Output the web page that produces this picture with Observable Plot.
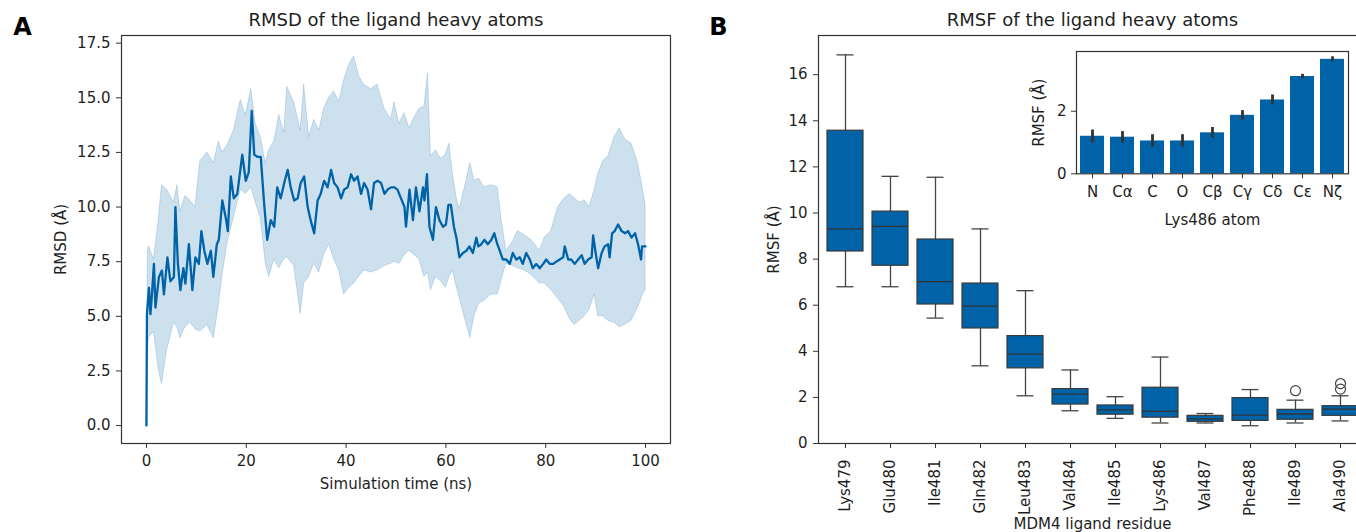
<!DOCTYPE html>
<html><head><meta charset="utf-8">
<script src="https://cdn.jsdelivr.net/npm/d3@7"></script>
<script src="https://cdn.jsdelivr.net/npm/@observablehq/plot@0.6"></script>
<style>
html,body{margin:0;padding:0;background:#fff;overflow:hidden}
#root{position:relative;width:1356px;height:532px;overflow:hidden;font-family:"DejaVu Sans",sans-serif}
#root svg{position:absolute;top:0}
</style></head><body><div id="root"></div>
<script>
// ---------- Panel A: RMSD time series ----------
const rmsdTime = [0,0.1,0.5,0.8,1.1,1.5,1.8,2.5,3.1,3.5,4.2,4.8,5.5,5.8,6.3,6.8,7.4,7.8,8.5,9.2,9.8,10.5,11.0,11.6,12.2,12.9,13.4,14.1,14.5,15.2,15.9,16.3,16.9,17.5,18.2,19.2,19.9,20.5,21.1,21.6,22.2,22.9,23.6,24.2,24.9,25.6,26.2,26.9,27.6,28.3,28.9,29.6,30.3,30.9,31.6,32.3,32.9,33.6,34.3,34.9,35.6,36.3,37.0,37.6,38.3,39.0,39.6,40.3,41.0,41.6,42.3,43.0,43.6,44.3,45.0,45.6,46.3,47.0,47.7,48.3,49.0,49.7,50.3,51.0,51.7,52.0,52.7,53.4,54.0,54.7,55.4,55.7,56.2,56.7,57.4,58.0,58.7,59.4,60.0,60.5,61.0,61.6,62.1,62.7,63.4,64.1,64.7,65.4,66.1,66.5,67.1,67.7,68.4,69.1,69.7,70.3,70.8,71.4,72.1,72.8,73.4,74.1,74.8,75.4,76.1,76.8,77.4,78.1,78.8,79.5,80.1,80.8,81.5,82.1,82.8,83.5,83.8,84.5,85.1,85.8,86.5,87.2,87.8,88.5,89.2,89.5,90.0,90.5,91.2,91.8,92.5,92.8,93.3,93.8,94.5,95.2,95.9,96.5,97.2,97.9,98.5,99.1,99.3,99.8,100];
const rmsdMean = [0,5.1,6.3,5.1,6.0,7.4,5.4,6.8,7.1,6.0,7.7,6.6,6.8,10.0,7.4,6.2,7.2,6.5,8.3,6.2,7.7,7.4,8.9,8.0,7.4,8.0,6.8,8.3,8.5,10.3,9.5,8.9,11.4,10.4,10.6,12.4,11.2,11.6,14.4,12.4,12.3,12.3,10.1,8.5,9.4,9.1,10.9,10.4,11.1,11.7,10.9,10.3,10.4,11.1,11.4,10.0,9.4,8.8,10.3,10.6,11.2,10.9,11.7,11.1,10.9,10.4,10.8,10.9,11.5,11.2,11.4,10.6,11.1,10.8,9.9,11.1,11.2,11.1,10.6,10.8,10.9,10.9,10.8,10.4,10.0,9.1,10.8,9.4,10.9,9.8,10.9,10.3,11.5,9.1,8.5,10.0,9.4,9.1,9.2,10.1,10.1,9.1,8.6,7.7,7.9,8.0,8.2,7.9,8.6,8.2,8.3,8.5,8.3,8.5,8.8,8.3,8.0,7.6,7.6,7.4,7.9,7.6,7.7,7.4,7.9,7.6,7.2,7.4,7.2,7.4,7.6,7.4,7.4,7.5,7.6,7.7,8.2,7.6,7.6,7.4,7.6,7.8,7.4,7.6,7.7,8.7,7.9,7.2,7.9,8.2,8.3,7.7,8.8,8.9,9.2,8.9,8.8,8.9,8.6,8.8,8.3,7.6,8.2,8.2,8.2];
const bandTime = [0,0.3,0.5,1.5,2.5,3.1,4.1,5.5,6.2,6.8,7.8,8.8,9.8,10.8,12.2,13.5,14.5,15.2,16.2,17.5,18.9,19.9,21.0,21.9,22.9,23.9,24.6,25.6,26.6,27.6,28.2,29.6,30.9,31.6,32.6,33.6,34.6,35.6,36.6,37.6,38.6,39.6,40.6,41.6,42.6,43.6,45.0,46.3,47.7,49.0,49.7,50.7,51.7,52.7,53.7,54.7,55.7,56.4,57.0,58.0,59.0,60.0,60.7,61.4,62.1,62.7,63.7,64.9,65.7,66.7,67.7,69.1,70.4,71.1,72.1,73.4,74.4,75.8,77.1,78.8,79.8,81.1,82.5,83.8,84.8,85.8,86.8,87.8,88.8,89.8,90.5,91.5,92.5,93.8,94.8,95.9,97.2,98.5,99.5,100];
const bandHigh = [0,8.0,8.2,7.6,9.5,11.0,10.8,10.2,11.0,9.8,10.5,10.3,10.0,12.1,12.5,12.0,13.0,12.5,12.8,13.5,14.9,14.2,15.4,13.8,13.2,12.0,12.6,13.0,14.2,13.4,15.5,14.8,13.5,15.6,13.2,14.0,13.5,14.5,15.0,15.3,14.8,15.8,16.5,16.9,16.0,15.6,15.4,15.6,14.5,14.0,14.8,13.8,14.3,13.6,14.1,14.5,14.6,16.1,12.3,12.6,12.2,12.4,12.9,11.5,10.5,9.9,10.8,12.0,11.2,11.3,10.9,11.0,10.9,9.5,8.0,8.4,8.9,8.7,8.5,8.0,8.6,8.9,10.0,10.4,10.6,10.4,10.2,10.3,10.0,10.8,11.5,12.1,12.3,13.2,13.6,13.1,12.9,12.0,10.8,10.1];
const bandLow = [0,3.5,4.0,4.3,2.5,1.9,3.4,4.7,4.5,4.0,4.5,4.7,4.4,4.3,4.6,4.0,5.5,6.8,8.3,9.5,10.8,10.6,10.9,10.2,9.5,7.4,6.8,7.6,7.2,7.6,7.7,7.3,5.1,6.5,6.8,7.4,7.0,7.8,8.3,7.6,7.1,6.0,6.3,6.5,6.8,7.1,7.0,7.1,7.3,7.4,7.5,7.4,7.8,8.0,7.8,7.6,6.8,7.0,6.2,6.8,6.6,6.3,6.8,7.1,6.4,5.9,5.0,4.0,5.0,5.6,5.7,6.0,6.0,6.6,7.4,7.3,7.2,7.1,6.9,6.5,6.5,6.2,5.8,5.4,4.9,4.6,4.8,5.0,5.3,6.0,5.0,5.0,4.8,4.7,4.5,4.6,4.8,5.4,6.0,6.2];
const rmsdTicksX = [0,20,40,60,80,100];
const rmsdTicksY = [0,2.5,5,7.5,10,12.5,15,17.5];

// ---------- Panel B: RMSF box plots ----------
const residues = ["Lys479","Glu480","Ile481","Gln482","Leu483","Val484","Ile485","Lys486","Val487","Phe488","Ile489","Ala490"];
const whiskerLow  = [6.80,6.80,5.44,3.37,2.07,1.42,1.09,0.89,0.89,0.77,0.89,0.98];
const quart1      = [8.33,7.71,6.03,4.99,3.26,1.69,1.25,1.12,0.94,0.98,1.03,1.20];
const medians     = [9.31,9.42,7.02,5.96,3.88,2.14,1.46,1.39,1.07,1.23,1.28,1.49];
const quart3      = [13.57,10.06,8.85,6.94,4.66,2.36,1.65,2.42,1.20,1.97,1.46,1.62];
const whiskerHigh = [16.86,11.59,11.55,9.31,6.63,3.19,2.03,3.75,1.30,2.34,1.88,2.07];
const outlierResidue = ["Ile489","Ala490","Ala490"];
const outlierValue   = [2.29,2.60,2.36];
const rmsfTicksY = [0,2,4,6,8,10,12,14,16];

// ---------- Inset: Lys486 atoms ----------
const atoms = ["N","Cα","C","O","Cβ","Cγ","Cδ","Cε","Nζ"];
const atomRmsf = [1.20,1.17,1.05,1.05,1.31,1.87,2.36,3.11,3.66];
const atomErr  = [0.20,0.18,0.20,0.20,0.17,0.15,0.16,0.07,0.08];
const insetTicksY = [0,2];

const blue = "#0063a8";
const ink = "#1e1e1e";
const font = "DejaVu Sans";
const root = document.getElementById("root");

const mean = rmsdTime.map((t,i)=>({t, v: rmsdMean[i]}));
const band = bandTime.map((t,i)=>({t, lo: bandLow[i], hi: bandHigh[i]}));

const A = Plot.plot({
  width: 700, height: 532,
  marginLeft: 121, marginRight: 30, marginTop: 35, marginBottom: 89,
  style: {fontFamily: font, fontSize: "15px", color: ink, background: "transparent", overflow: "visible", maxWidth: "none"},
  x: {domain: [-5, 105], label: null},
  y: {domain: [-0.82, 17.85], label: null},
  marks: [
    Plot.areaY(band, {x: "t", y1: "lo", y2: "hi", fill: blue, fillOpacity: 0.2, stroke: blue, strokeOpacity: 0.18, strokeWidth: 1}),
    Plot.lineY(mean, {x: "t", y: "v", stroke: blue, strokeWidth: 2.3}),
    Plot.frame({stroke: "#333", strokeWidth: 1.2}),
    Plot.axisX({ticks: rmsdTicksX, tickSize: 5, tickPadding: 7, label: null, stroke: "#333"}),
    Plot.axisY({ticks: rmsdTicksY, tickFormat: d3.format(".1f"), tickSize: 5, tickPadding: 6, label: null, stroke: "#333"}),
    Plot.text(["RMSD of the ligand heavy atoms"], {frameAnchor: "top", dy: -15, lineAnchor: "middle", fontSize: 18}),
    Plot.text(["Simulation time (ns)"], {frameAnchor: "bottom", dy: 41, lineAnchor: "middle", fontSize: 15}),
    Plot.text(["RMSD (Å)"], {frameAnchor: "left", dx: -60, rotate: -90, lineAnchor: "middle", textAnchor: "middle", fontSize: 15}),
    Plot.text(["A"], {frameAnchor: "top-left", dx: -99, dy: -8, lineAnchor: "middle", textAnchor: "middle", fontSize: 24, fontWeight: "bold", fill: "#000"})
  ]
});
A.style.left = "0px";
root.appendChild(A);

const boxes = residues.map((r,i)=>({r, lo: whiskerLow[i], q1: quart1[i], med: medians[i], q3: quart3[i], hi: whiskerHigh[i]}));
const outliers = outlierResidue.map((r,i)=>({r, v: outlierValue[i]}));

const B = Plot.plot({
  width: 700, height: 532,
  marginLeft: 118, marginRight: 34, marginTop: 35, marginBottom: 89,
  style: {fontFamily: font, fontSize: "15px", color: ink, background: "transparent", overflow: "visible", maxWidth: "none"},
  x: {domain: residues, paddingInner: 0.2, paddingOuter: 0.1, label: null},
  y: {domain: [0, 17.7], label: null},
  marks: [
    Plot.ruleX(boxes, {x: "r", y1: "lo", y2: "hi", stroke: "#444", strokeWidth: 1.3}),
    Plot.tickY(boxes, {x: "r", y: "lo", stroke: "#444", strokeWidth: 1.3, insetLeft: 9.5, insetRight: 9.5}),
    Plot.tickY(boxes, {x: "r", y: "hi", stroke: "#444", strokeWidth: 1.3, insetLeft: 9.5, insetRight: 9.5}),
    Plot.barY(boxes, {x: "r", y1: "q1", y2: "q3", fill: blue, stroke: "#3a3a3a", strokeWidth: 1.2}),
    Plot.tickY(boxes, {x: "r", y: "med", stroke: "#333", strokeWidth: 1.3}),
    Plot.dot(outliers, {x: "r", y: "v", r: 5, stroke: "#444", fill: "none", strokeWidth: 1.2}),
    Plot.frame({stroke: "#333", strokeWidth: 1.2}),
    Plot.axisX({tickSize: 5, tickPadding: 11, tickRotate: -90, label: null, stroke: "#333"}),
    Plot.axisY({ticks: rmsfTicksY, tickSize: 5, tickPadding: 6, label: null, stroke: "#333"}),
    Plot.text(["RMSF of the ligand heavy atoms"], {frameAnchor: "top", dy: -15, lineAnchor: "middle", fontSize: 18}),
    Plot.text(["MDM4 ligand residue"], {frameAnchor: "bottom", dy: 81, lineAnchor: "middle", fontSize: 15}),
    Plot.text(["RMSF (Å)"], {frameAnchor: "left", dx: -44, rotate: -90, lineAnchor: "middle", textAnchor: "middle", fontSize: 15}),
    Plot.text(["B"], {frameAnchor: "top-left", dx: -100, dy: -8, lineAnchor: "middle", textAnchor: "middle", fontSize: 24, fontWeight: "bold", fill: "#000"})
  ]
});
B.style.left = "700px";
root.appendChild(B);

const atomData = atoms.map((a,i)=>({a, v: atomRmsf[i], e: atomErr[i]}));
const C = Plot.plot({
  width: 370, height: 200,
  marginLeft: 86, marginRight: 12, marginTop: 21, marginBottom: 56.7,
  style: {fontFamily: font, fontSize: "15px", color: ink, background: "transparent", overflow: "visible", maxWidth: "none"},
  x: {domain: atoms, paddingInner: 0.2, paddingOuter: 0.1, label: null},
  y: {domain: [0, 3.91], label: null},
  marks: [
    Plot.barY(atomData, {x: "a", y: "v", fill: blue}),
    Plot.ruleX(atomData, {x: "a", y1: d => d.v - d.e, y2: d => d.v + d.e, stroke: "#333", strokeWidth: 2.8}),
    Plot.frame({stroke: "#333", strokeWidth: 1.2}),
    Plot.axisX({tickSize: 5, tickPadding: 8, label: null, stroke: "#333"}),
    Plot.axisY({ticks: insetTicksY, tickFormat: d3.format("d"), tickSize: 5, tickPadding: 5, label: null, stroke: "#333"}),
    Plot.text(["Lys486 atom"], {frameAnchor: "bottom", dy: 46.7, lineAnchor: "middle", fontSize: 15}),
    Plot.text(["RMSF (Å)"], {frameAnchor: "left", dx: -37, rotate: -90, lineAnchor: "middle", textAnchor: "middle", fontSize: 15})
  ]
});
C.style.left = "990px";
C.style.top = "30px";
root.appendChild(C);
</script></body></html>
